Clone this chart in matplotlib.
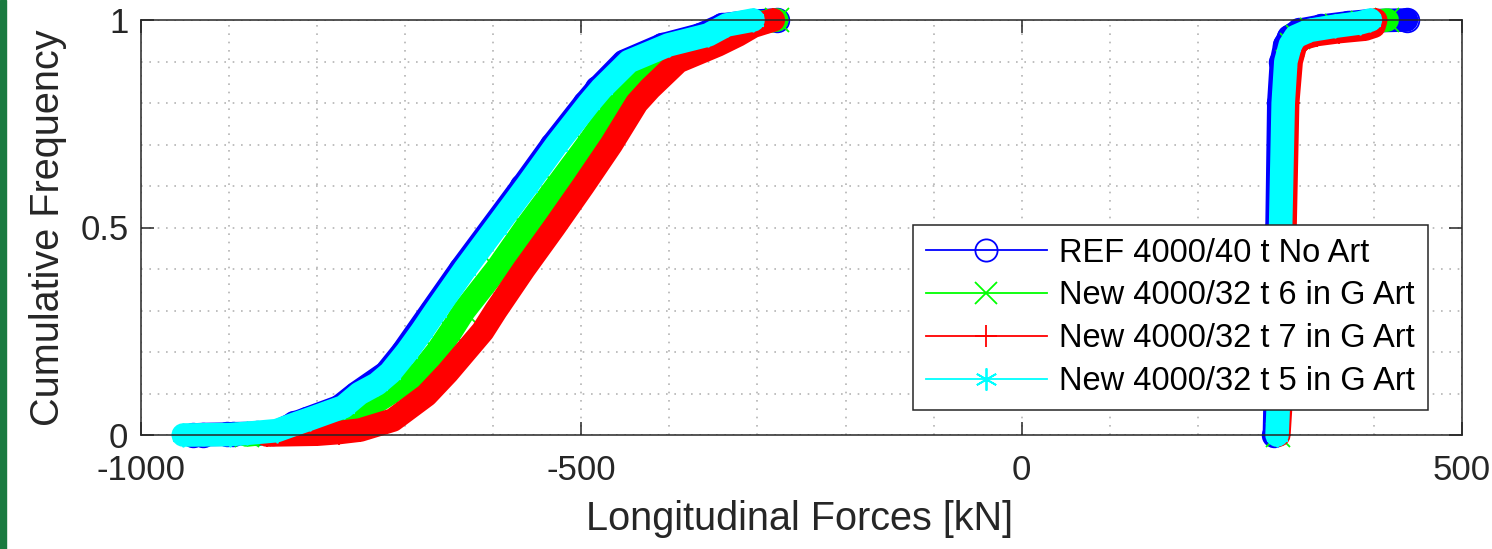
import numpy as np
import matplotlib.pyplot as plt
from matplotlib.lines import Line2D
from matplotlib.patches import Rectangle

plt.rcParams['font.family'] = ['Liberation Sans', 'DejaVu Sans']
plt.rcParams['axes.unicode_minus'] = False

labels = ['REF 4000/40 t No Art', 'New 4000/32 t 6 in G Art',
          'New 4000/32 t 7 in G Art', 'New 4000/32 t 5 in G Art']
colors = ['#0000ff', '#00ff00', '#ff0000', '#00ffff']
markers = ['o', 'x', '+', (6, 2, 0)]

# compressive branch (negative forces), cumulative frequency vs force [kN]
ref_neg_p = [0, 0.001, 0.002, 0.003, 0.004, 0.006, 0.0105, 0.028, 0.039, 0.068, 0.1,
             0.15, 0.2, 0.3, 0.4, 0.5, 0.6, 0.7, 0.8, 0.835, 0.9, 0.94, 0.964,
             0.988, 0.997, 1.0]
ref_neg_f = [-941, -930, -902, -895, -868, -850, -843, -826, -812, -775, -756,
             -722, -703, -670, -637, -602, -567, -533, -496, -482, -452, -408, -365,
             -340, -305, -278]
g6_neg_p = [0, 0.003, 0.006, 0.02, 0.056, 0.1, 0.15, 0.2, 0.25, 0.3, 0.4, 0.5,
            0.6, 0.7, 0.8, 0.835, 0.9, 0.94, 0.964, 0.988, 1.0]
g6_neg_f = [-880, -866, -830, -789, -751, -718, -683, -664, -648, -633, -596, -563,
            -528, -493, -460, -450, -420, -378, -345, -315, -278]
g7_neg_p = [0, 0.002, 0.006, 0.012, 0.036, 0.096, 0.15, 0.2, 0.25, 0.3, 0.4, 0.5,
            0.6, 0.7, 0.8, 0.835, 0.9, 0.94, 0.964, 0.985, 0.995, 1.0]
g7_neg_f = [-857, -800, -775, -751, -714, -676, -652, -632, -612, -597, -565, -531,
            -498, -466, -437, -422, -390, -345, -322, -305, -290, -282]
g5_neg_p = [0, 0.001, 0.004, 0.0105, 0.028, 0.039, 0.068, 0.1, 0.123, 0.15, 0.2,
            0.25, 0.3, 0.4, 0.5, 0.6, 0.7, 0.8, 0.835, 0.9, 0.94, 0.964, 0.988, 1.0]
g5_neg_f = [-952, -899, -880, -846, -823, -808, -770, -752, -732, -717, -698,
            -681, -665, -632, -597, -562, -528, -491, -477, -446, -401, -356, -335, -305]

# tensile branch (positive forces)
ref_pos_p = [0, 0.1, 0.5, 0.8, 0.9, 0.94, 0.96, 0.975, 0.985, 0.993, 0.998, 1.0]
ref_pos_f = [287, 288, 290, 292, 295, 299, 304, 315, 340, 370, 395, 437]
g6_pos_p = [0, 0.1, 0.5, 0.8, 0.9, 0.94, 0.96, 0.975, 0.985, 0.993, 1.0]
g6_pos_f = [291, 293, 296, 299, 302, 307, 314, 330, 358, 388, 415]
g7_pos_p = [0, 0.1, 0.5, 0.8, 0.9, 0.94, 0.955, 0.965, 0.972, 0.978, 0.985, 1.0]
g7_pos_f = [292, 295, 299, 302, 306, 311, 318, 335, 360, 390, 400, 402]
g5_pos_p = [0, 0.1, 0.5, 0.8, 0.9, 0.94, 0.96, 0.975, 0.985, 0.993, 1.0]
g5_pos_f = [290, 292, 294, 297, 300, 305, 311, 327, 356, 384, 396]

series = [
    ((ref_neg_f, ref_neg_p), (ref_pos_f, ref_pos_p)),
    ((g6_neg_f, g6_neg_p), (g6_pos_f, g6_pos_p)),
    ((g7_neg_f, g7_neg_p), (g7_pos_f, g7_pos_p)),
    ((g5_neg_f, g5_neg_p), (g5_pos_f, g5_pos_p)),
]

fig = plt.figure(figsize=(14.92, 5.49), dpi=100)
ax = fig.add_axes([141/1492, 1 - 435/549, 1321/1492, 415/549])

handles = []
for k, branches in enumerate(series):
    c, m = colors[k], markers[k]
    for f, p in branches:
        # dense markers in the original merge into a thick band
        ax.plot(f, p, color=c, lw=17, solid_capstyle='round',
                solid_joinstyle='round', clip_on=False, zorder=2 + k)
        ax.plot(f, p, ls='none', marker=m, ms=17, mew=1.3, mfc='none',
                color=c, clip_on=False, zorder=2 + k)
    handles.append(Line2D([], [], color=c, lw=1.3, marker=m, ms=16,
                          mew=1.3, mfc='none'))

ax.set_xlim(-1000, 500)
ax.set_ylim(0, 1)
ax.set_xticks([-1000, -500, 0, 500])
ax.set_yticks([0, 0.5, 1])
ax.set_yticklabels(['0', '0.5', '1'])
ax.set_xticks(np.arange(-1000, 501, 100), minor=True)
ax.set_yticks(np.arange(0, 1.01, 0.1), minor=True)
ax.grid(which='both', color='#b4b4b4', linestyle=(0, (1, 4)), linewidth=1.2)
ax.set_axisbelow(True)

ax.tick_params(which='major', direction='in', length=9.5, width=1.1,
               top=True, right=True, labelsize=25, colors='#262626')
ax.tick_params(axis='x', which='major', pad=14)
ax.tick_params(axis='y', which='major', pad=9)
ax.tick_params(which='minor', length=0)
for s in ax.spines.values():
    s.set_color('#262626')
    s.set_linewidth(1.1)
    s.set_zorder(10)

ax.set_xlabel('Longitudinal Forces [kN]', fontsize=28.5, color='#262626')
ax.set_ylabel('Cumulative Frequency', fontsize=28.5, color='#262626')
ax.xaxis.set_label_coords(0.4989, -0.157)
ax.yaxis.set_label_coords(-0.056, 0.499)

leg = ax.legend(handles, labels, loc='lower right',
                bbox_to_anchor=(0.9743, 0.0602), fontsize=23.5,
                handlelength=3.7, handletextpad=0.39, borderpad=0.4,
                labelspacing=0.36, fancybox=False, framealpha=1,
                edgecolor='#262626', borderaxespad=0)
leg.get_frame().set_linewidth(1.1)
leg.set_zorder(20)

fig.patches.append(Rectangle((0, 0), 6/1492, 1, transform=fig.transFigure,
                             color='#1a7a40'))

fig.savefig('out.png', dpi=100)
